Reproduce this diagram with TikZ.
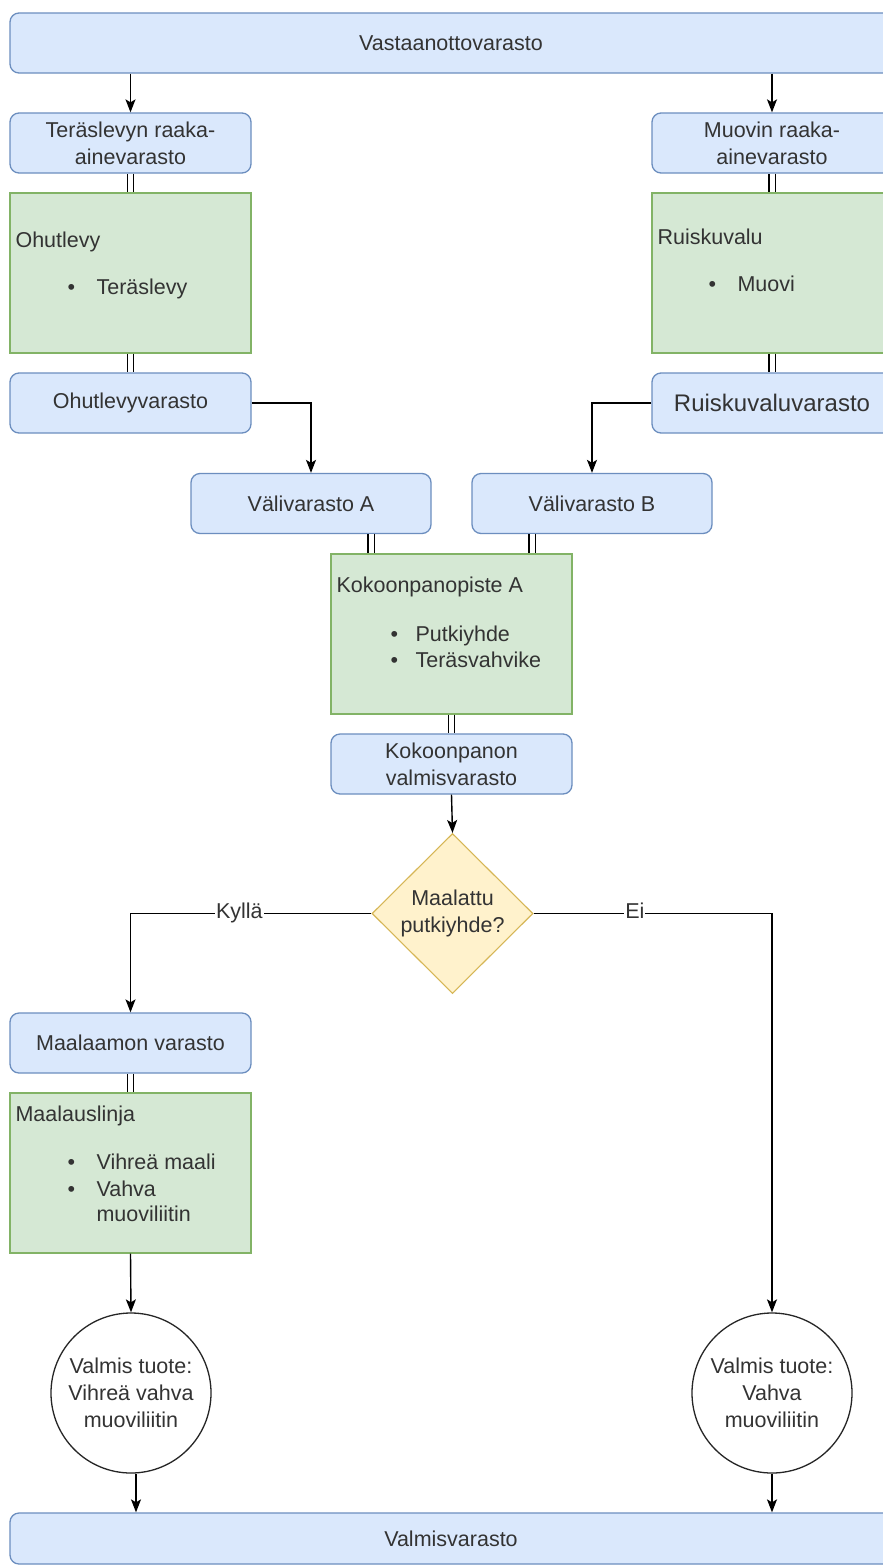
\documentclass[tikz,border=0pt]{standalone}
\usepackage{fontspec}
\setmainfont{Liberation Sans}
\usetikzlibrary{arrows.meta,shapes.geometric,calc}
\definecolor{bluefill}{HTML}{DAE8FC}
\definecolor{bluedraw}{HTML}{6C8EBF}
\definecolor{greenfill}{HTML}{D5E8D4}
\definecolor{greendraw}{HTML}{82B366}
\definecolor{yellowfill}{HTML}{FFF2CC}
\definecolor{yellowdraw}{HTML}{D6B656}
\definecolor{ink}{HTML}{333333}
\begin{document}
\begin{tikzpicture}[x=1pt,y=-1pt,
  font=\fontsize{21.5}{27}\selectfont, text=ink,
  store/.style={draw=bluedraw, fill=bluefill, rounded corners=9pt, line width=1.3pt,
    minimum height=60pt, inner sep=0pt, align=center},
  process/.style={draw=greendraw, fill=greenfill, line width=1.3pt,
    minimum height=160pt, inner sep=0pt},
  decision/.style={diamond, draw=yellowdraw, fill=yellowfill, line width=1.1pt,
    minimum width=161pt, minimum height=160pt, inner sep=0pt, align=center},
  product/.style={circle, draw=black!85, fill=white, line width=1.3pt,
    minimum size=160pt, inner sep=0pt, align=center},
  heading/.style={anchor=west, inner sep=0pt, text height=15pt, text depth=5pt},
  item/.style={anchor=west, inner sep=0pt, text height=15pt, text depth=5pt},
  arr/.style={draw=black, line width=1.4pt, -{Stealth[length=13pt,width=10pt,inset=3pt]}},
  dbl/.style={draw=black, line width=1.2pt, double=white, double distance=5pt},
  edgelabel/.style={fill=white, inner sep=1pt, text height=15pt, text depth=5pt}]

\useasboundingbox (0,0) rectangle (883,1567);
\clip (0,0) rectangle (883,1567);
\fill[white] (0,0) rectangle (883,1567);

% warehouses and process stations
\node[store, minimum width=882pt] (top) at (451,43) {Vastaanottovarasto};
\node[store, minimum width=241pt] (ter) at (130.5,143) {Teräslevyn raaka-\\ainevarasto};
\node[store, minimum width=240pt] (muo) at (772,143) {Muovin raaka-\\ainevarasto};

\node[process, minimum width=241pt] (ohut) at (130.5,273) {};
\node[heading] at ([shift={(6,50)}]ohut.north west) {Ohutlevy};
\node[item] at ([shift={(58,97)}]ohut.north west) {\makebox[29pt][l]{\textbullet}Teräslevy};

\node[process, minimum width=240pt] (ruisk) at (772,273) {};
\node[heading] at ([shift={(6,47)}]ruisk.north west) {Ruiskuvalu};
\node[item] at ([shift={(57,94)}]ruisk.north west) {\makebox[29pt][l]{\textbullet}Muovi};

\node[store, minimum width=241pt] (ohutv) at (130.5,403) {Ohutlevyvarasto};
\node[store, minimum width=240pt, font=\fontsize{24}{28}\selectfont] (ruisv) at (772,403) {Ruiskuvaluvarasto};

\node[store, minimum width=240pt] (vA) at (311,503.5) {Välivarasto A};
\node[store, minimum width=240pt] (vB) at (592,503.5) {Välivarasto B};

\node[process, minimum width=241pt] (kok) at (451.5,634) {};
\node[heading] at ([shift={(6,34)}]kok.north west) {Kokoonpanopiste A};
\node[item] at ([shift={(60,83)}]kok.north west) {\makebox[25pt][l]{\textbullet}Putkiyhde};
\node[item] at ([shift={(60,109)}]kok.north west) {\makebox[25pt][l]{\textbullet}Teräsvahvike};

\node[store, minimum width=241pt] (kv) at (451.5,764) {Kokoonpanon\\valmisvarasto};

\node[decision] (dec) at (452.5,913.5) {Maalattu\\putkiyhde?};

\node[store, minimum width=241pt] (maa) at (130.5,1043) {Maalaamon varasto};

\node[process, minimum width=241pt] (mlin) at (130.5,1173) {};
\node[heading] at ([shift={(6,24)}]mlin.north west) {Maalauslinja};
\node[item] at ([shift={(58,72)}]mlin.north west) {\makebox[29pt][l]{\textbullet}Vihreä maali};
\node[item] at ([shift={(58,99)}]mlin.north west) {\makebox[29pt][l]{\textbullet}Vahva};
\node[item] at ([shift={(87,124)}]mlin.north west) {muoviliitin};

\node[product] (cL) at (131,1393) {Valmis tuote:\\Vihreä vahva\\muoviliitin};
\node[product] (cR) at (772,1393) {Valmis tuote:\\Vahva\\muoviliitin};

\node[store, minimum width=882pt, minimum height=51pt] (valm) at (451,1538.5) {Valmisvarasto};

% flow connectors
\draw[arr] (top.south -| ter.north) -- (ter.north);
\draw[arr] (top.south -| muo.north) -- (muo.north);
\draw[dbl] (ter.south) -- (ohut.north);
\draw[dbl] (muo.south) -- (ruisk.north);
\draw[dbl] (ohut.south) -- (ohutv.north);
\draw[dbl] (ruisk.south) -- (ruisv.north);
\draw[arr] (ohutv.east) -| (vA.north);
\draw[arr] (ruisv.west) -| (vB.north);
\draw[dbl] ([xshift=60pt]vA.south) -- ([xshift=60pt]vA.south |- kok.north);
\draw[dbl] ([xshift=-60pt]vB.south) -- ([xshift=-60pt]vB.south |- kok.north);
\draw[dbl] (kok.south) -- (kv.north);
\draw[arr] (kv.south) -- (dec.north);
\draw[arr] (dec.west) -| node[edgelabel, pos=0.274] {Kyllä} (maa.north);
\draw[arr] (dec.east) -| node[edgelabel, pos=0.2125] {Ei} (cR.north);
\draw[dbl] (maa.south) -- (mlin.north);
\draw[arr] (mlin.south) -- (cL.north);
\draw[arr] ([xshift=5pt]cL.south) -- ([xshift=5pt]cL.south |- valm.north);
\draw[arr] (cR.south) -- (cR.south |- valm.north);
\end{tikzpicture}
\end{document}
